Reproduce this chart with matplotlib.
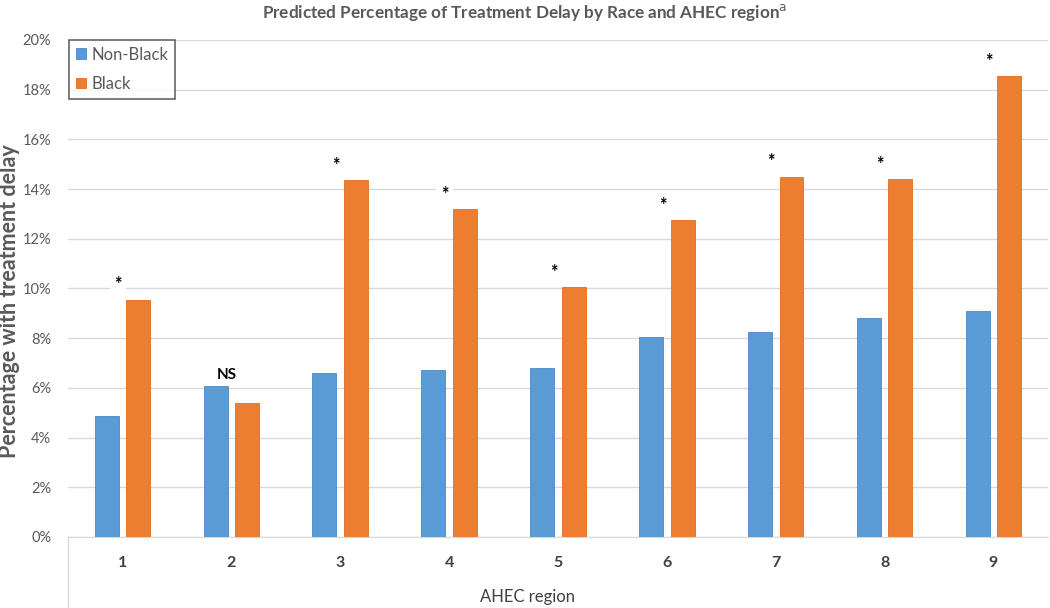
import matplotlib.pyplot as plt
import numpy as np

plt.rcParams['font.family'] = ['Lato', 'DejaVu Sans']

# data
regions = ['1', '2', '3', '4', '5', '6', '7', '8', '9']
non_black = [4.85, 6.07, 6.6, 6.7, 6.8, 8.05, 8.25, 8.8, 9.1]
black = [9.55, 5.4, 14.35, 13.2, 10.05, 12.75, 14.5, 14.4, 18.55]
signif = ['*', 'NS', '*', '*', '*', '*', '*', '*', '*']
y_ticks = [0, 2, 4, 6, 8, 10, 12, 14, 16, 18, 20]

blue = '#5B9BD5'
orange = '#ED7D31'
grey = '#595959'

fig = plt.figure(figsize=(10.5, 6.08), dpi=100)
ax = fig.add_axes([0.0648, 0.1168, 0.9332, 0.8175])

x = np.arange(len(regions))
w = 0.22
ax.bar(x - 0.145, non_black, w, color=blue, edgecolor='#4A8AC8', lw=0.6,
       label='Non-Black', zorder=3)
ax.bar(x + 0.145, black, w, color=orange, edgecolor='#E06E22', lw=0.6,
       label='Black', zorder=3)

# significance markers
for i, s in enumerate(signif):
    if s == 'NS':
        ax.text(x[i] - 0.04, non_black[i] + 0.45, s, ha='center', va='center',
                fontsize=11, fontweight='bold', color='black', zorder=4)
    else:
        ax.text(x[i] - 0.04, max(black[i], non_black[i]) + 0.6, s,
                ha='center', va='center', fontsize=13, fontweight='bold',
                color='black', zorder=4,
                bbox=dict(boxstyle='square,pad=0.25', fc='white', ec='none'))

ax.set_xlim(-0.5, len(regions) - 0.5)
ax.set_ylim(0, 20)
ax.set_yticks(y_ticks)
ax.set_yticklabels([f'{t}%' for t in y_ticks], color=grey, fontsize=10.5)
ax.set_xticks(x)
ax.set_xticklabels(regions, fontsize=11.5, fontweight='bold', color='#404040')
ax.tick_params(axis='y', length=0, pad=12)
ax.tick_params(axis='x', length=0, pad=14)
ax.grid(axis='y', color='#D9D9D9', lw=1, zorder=0)
for side in ['top', 'right', 'left']:
    ax.spines[side].set_visible(False)
ax.spines['bottom'].set_color('#D9D9D9')

# left border of the category axis area
ax.plot([0, 0], [0.0, -0.1168 / 0.8175], transform=ax.transAxes,
        color='#D9D9D9', lw=1, clip_on=False)

ax.set_xlabel('AHEC region', fontsize=12, color='#404040', labelpad=14)
ax.set_ylabel('Percentage with treatment delay', fontsize=15.5,
              fontweight='bold', color=grey)
ax.yaxis.set_label_coords(-0.049, 0.475)
ax.xaxis.set_label_coords(0.469, -0.105)

fig.text(0.5, 0.979, 'Predicted Percentage of Treatment Delay by Race and AHEC region$^{\\mathrm{a}}$',
         ha='center', va='center', fontsize=12.3, fontweight='bold', color=grey)

leg = ax.legend(loc='upper left', bbox_to_anchor=(-0.004, 1.01), fontsize=12,
                frameon=True, fancybox=False, handlelength=0.6, handleheight=0.6,
                labelspacing=0.8, borderpad=0.4, handletextpad=0.35,
                borderaxespad=0.3)
leg.get_frame().set_edgecolor('#404040')
leg.get_frame().set_linewidth(1.2)
for t in leg.get_texts():
    t.set_color(grey)

fig.savefig('out.png', dpi=100)
